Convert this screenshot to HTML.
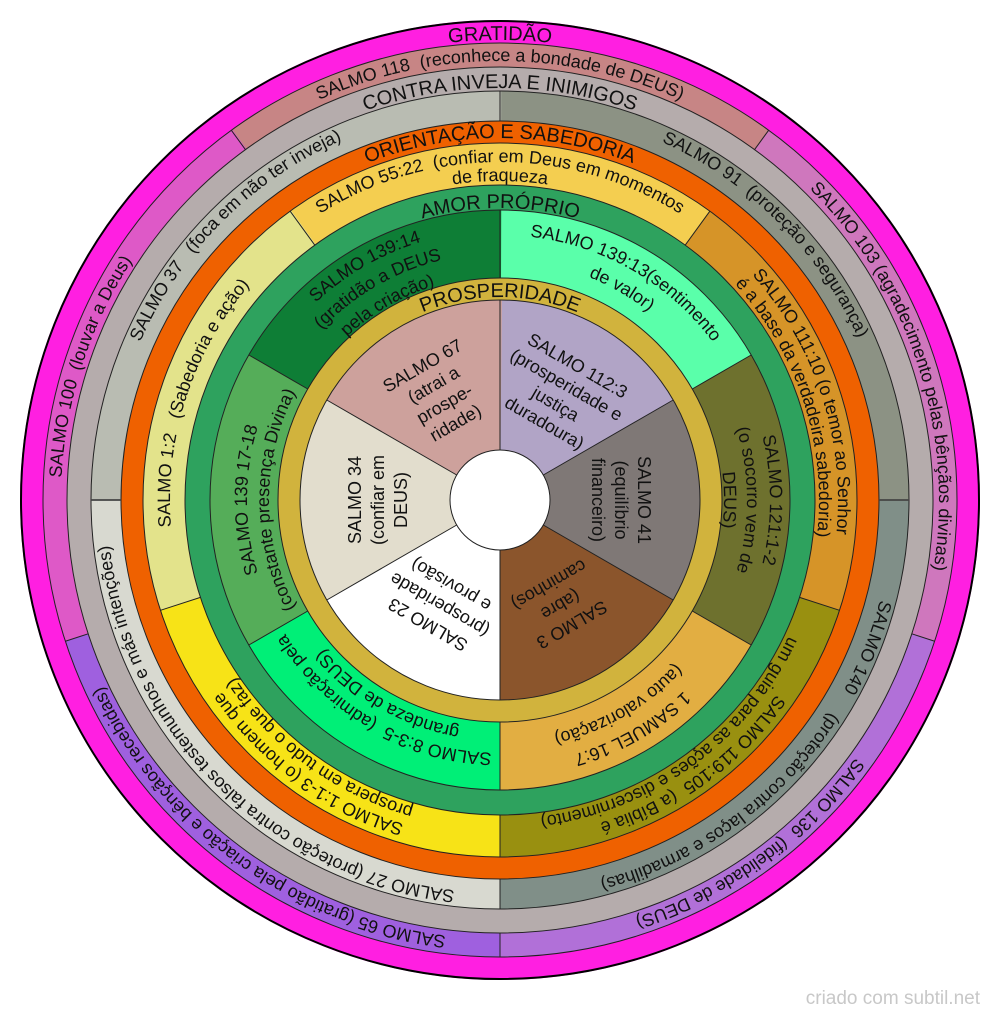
<!DOCTYPE html>
<html><head><meta charset="utf-8">
<style>
html,body{margin:0;padding:0;background:#fff;width:1000px;height:1019px;overflow:hidden;}
svg{display:block;}
text{font-family:"Liberation Sans",Arial,sans-serif;fill:#111;}
.t{font-size:20px;}
.l{font-size:18px;}
</style></head><body>
<svg width="1000" height="1019" viewBox="0 0 1000 1019" xmlns="http://www.w3.org/2000/svg">
<defs>
<path id="p460" d="M0,460A460,460 0 1,1 0,-460A460,460 0 1,1 0,460"/>
<path id="p439" d="M0,439A439,439 0 1,1 0,-439A439,439 0 1,1 0,439"/>
<path id="p412" d="M0,412A412,412 0 1,1 0,-412A412,412 0 1,1 0,412"/>
<path id="p393" d="M0,393A393,393 0 1,1 0,-393A393,393 0 1,1 0,393"/>
<path id="p362" d="M0,362A362,362 0 1,1 0,-362A362,362 0 1,1 0,362"/>
<path id="p338" d="M0,338A338,338 0 1,1 0,-338A338,338 0 1,1 0,338"/>
<path id="p330" d="M0,330A330,330 0 1,1 0,-330A330,330 0 1,1 0,330"/>
<path id="p319" d="M0,319A319,319 0 1,1 0,-319A319,319 0 1,1 0,319"/>
<path id="p292" d="M0,292A292,292 0 1,1 0,-292A292,292 0 1,1 0,292"/>
<path id="p270" d="M0,270A270,270 0 1,1 0,-270A270,270 0 1,1 0,270"/>
<path id="p265" d="M0,265A265,265 0 1,1 0,-265A265,265 0 1,1 0,265"/>
<path id="p253" d="M0,253A253,253 0 1,1 0,-253A253,253 0 1,1 0,253"/>
<path id="p247" d="M0,247A247,247 0 1,1 0,-247A247,247 0 1,1 0,247"/>
<path id="p240" d="M0,240A240,240 0 1,1 0,-240A240,240 0 1,1 0,240"/>
<path id="p231" d="M0,231A231,231 0 1,1 0,-231A231,231 0 1,1 0,231"/>
<path id="p224" d="M0,224A224,224 0 1,1 0,-224A224,224 0 1,1 0,224"/>
<path id="p203" d="M0,203A203,203 0 1,1 0,-203A203,203 0 1,1 0,203"/>
</defs>

<g transform="translate(500,500)">
  <!-- GRATIDAO -->
  <circle r="480" fill="#ff1fe1"/>
  <g fill="none" stroke-width="24" stroke-dasharray="560.2 2235.817">
    <circle r="445" stroke="#c78585" stroke-dashoffset="978.61"/>
    <circle r="445" stroke="#cf77bd" stroke-dashoffset="419.40"/>
    <circle r="445" stroke="#b170d8" stroke-dashoffset="2656.22"/>
    <circle r="445" stroke="#9f60df" stroke-dashoffset="2097.01"/>
    <circle r="445" stroke="#de59c7" stroke-dashoffset="1537.81"/>
  </g>
  <!-- CONTRA INVEJA -->
  <circle r="433" fill="#b5acac"/>
  <g fill="none" stroke-width="30" stroke-dasharray="619.9 1855.675">
    <circle r="394" stroke="#8c9284" stroke-dashoffset="618.89"/>
    <circle r="394" stroke="#808f88" stroke-dashoffset="0"/>
    <circle r="394" stroke="#d8d9d0" stroke-dashoffset="1856.68"/>
    <circle r="394" stroke="#b9bcb2" stroke-dashoffset="1237.79"/>
  </g>
  <!-- ORIENTACAO -->
  <circle r="379" fill="#ef6100"/>
  <g fill="none" stroke-width="42" stroke-dasharray="423.2 1687.95">
    <circle r="336" stroke="#f4ce50" stroke-dashoffset="738.90"/>
    <circle r="336" stroke="#d69428" stroke-dashoffset="316.67"/>
    <circle r="336" stroke="#999010" stroke-dashoffset="2005.59"/>
    <circle r="336" stroke="#f7e317" stroke-dashoffset="1583.36"/>
    <circle r="336" stroke="#e3e38b" stroke-dashoffset="1161.13"/>
  </g>
  <!-- AMOR PROPRIO -->
  <circle r="315" fill="#2ea25e"/>
  <g fill="none" stroke-width="68" stroke-dasharray="269.1 1339.395">
    <circle r="256" stroke="#5affaa" stroke-dashoffset="402.12"/>
    <circle r="256" stroke="#6e712e" stroke-dashoffset="134.04"/>
    <circle r="256" stroke="#e2ae42" stroke-dashoffset="1474.45"/>
    <circle r="256" stroke="#00ef77" stroke-dashoffset="1206.37"/>
    <circle r="256" stroke="#55ad59" stroke-dashoffset="938.29"/>
    <circle r="256" stroke="#0e7e36" stroke-dashoffset="670.21"/>
  </g>
  <!-- PROSPERIDADE -->
  <circle r="222" fill="#d1b33d"/>
  <g fill="none" stroke-width="150" stroke-dasharray="131.9 653.498">
    <circle r="125" stroke="#b1a4c6" stroke-dashoffset="196.35"/>
    <circle r="125" stroke="#7f7876" stroke-dashoffset="65.45"/>
    <circle r="125" stroke="#8b552c" stroke-dashoffset="719.95"/>
    <circle r="125" stroke="#ffffff" stroke-dashoffset="589.05"/>
    <circle r="125" stroke="#e2ddcd" stroke-dashoffset="458.15"/>
    <circle r="125" stroke="#cda19c" stroke-dashoffset="327.25"/>
  </g>
  <circle r="50" fill="#fff"/>

  <!-- ring boundary circles -->
  <g fill="none" stroke="#222" stroke-width="1">
    <circle r="457"/><circle r="433"/><circle r="409"/><circle r="379"/>
    <circle r="357"/><circle r="315"/><circle r="290"/><circle r="222"/>
    <circle r="200"/><circle r="50"/>
  </g>
  <circle r="479" fill="none" stroke="#000" stroke-width="2"/>

  <!-- radial lines -->
  <g stroke="#222" stroke-width="1">
    <line x1="0" y1="-433" x2="0" y2="-457" transform="rotate(-36)"/>
    <line x1="0" y1="-433" x2="0" y2="-457" transform="rotate(36)"/>
    <line x1="0" y1="-433" x2="0" y2="-457" transform="rotate(108)"/>
    <line x1="0" y1="-433" x2="0" y2="-457" transform="rotate(180)"/>
    <line x1="0" y1="-433" x2="0" y2="-457" transform="rotate(252)"/>

    <line x1="0" y1="-379" x2="0" y2="-409" transform="rotate(0)"/>
    <line x1="0" y1="-379" x2="0" y2="-409" transform="rotate(90)" stroke="#444" stroke-width="1.8"/>
    <line x1="0" y1="-379" x2="0" y2="-409" transform="rotate(180)"/>
    <line x1="0" y1="-379" x2="0" y2="-409" transform="rotate(270)" stroke="#444" stroke-width="1.8"/>

    <line x1="0" y1="-315" x2="0" y2="-357" transform="rotate(-36)"/>
    <line x1="0" y1="-315" x2="0" y2="-357" transform="rotate(36)"/>
    <line x1="0" y1="-315" x2="0" y2="-357" transform="rotate(108)"/>
    <line x1="0" y1="-315" x2="0" y2="-357" transform="rotate(180)"/>
    <line x1="0" y1="-315" x2="0" y2="-357" transform="rotate(252)"/>

    <line x1="0" y1="-222" x2="0" y2="-290" transform="rotate(0)"/>
    <line x1="0" y1="-222" x2="0" y2="-290" transform="rotate(60)"/>
    <line x1="0" y1="-222" x2="0" y2="-290" transform="rotate(120)"/>
    <line x1="0" y1="-222" x2="0" y2="-290" transform="rotate(180)"/>
    <line x1="0" y1="-222" x2="0" y2="-290" transform="rotate(240)"/>
    <line x1="0" y1="-222" x2="0" y2="-290" transform="rotate(300)"/>

    <line x1="0" y1="-50" x2="0" y2="-200" transform="rotate(0)"/>
    <line x1="0" y1="-50" x2="0" y2="-200" transform="rotate(60)"/>
    <line x1="0" y1="-50" x2="0" y2="-200" transform="rotate(120)"/>
    <line x1="0" y1="-50" x2="0" y2="-200" transform="rotate(180)"/>
    <line x1="0" y1="-50" x2="0" y2="-200" transform="rotate(240)"/>
    <line x1="0" y1="-50" x2="0" y2="-200" transform="rotate(300)"/>
  </g>

  <!-- TITLES -->
  <text class="t" text-anchor="middle"><textPath href="#p460" startOffset="50%">GRATIDÃO</textPath></text>
  <text class="t" text-anchor="middle"><textPath href="#p412" startOffset="50%">CONTRA INVEJA E INIMIGOS</textPath></text>
  <text class="t" text-anchor="middle"><textPath href="#p362" startOffset="50%">ORIENTAÇÃO E SABEDORIA</textPath></text>
  <text class="t" text-anchor="middle"><textPath href="#p292" startOffset="50%">AMOR PRÓPRIO</textPath></text>
  <text class="t" text-anchor="middle"><textPath href="#p203" startOffset="50%">PROSPERIDADE</textPath></text>

  <!-- GRATIDAO labels -->
  <g class="l" text-anchor="middle">
    <text><textPath href="#p439" startOffset="50%">SALMO 118 &#160;(reconhece a bondade de DEUS)</textPath></text>
    <g transform="rotate(72)"><text><textPath href="#p439" startOffset="50%">SALMO 103 (agradecimento pelas bênçãos divinas)</textPath></text></g>
    <g transform="rotate(144)"><text><textPath href="#p439" startOffset="50%">SALMO 136 &#160;(fidelidade de DEUS)</textPath></text></g>
    <g transform="rotate(216)"><text><textPath href="#p439" startOffset="50%">SALMO 65 (gratidão pela criação e bênçãos recebidas)</textPath></text></g>
    <g transform="rotate(288)"><text><textPath href="#p439" startOffset="50%">SALMO 100 &#160;(louvar a Deus)</textPath></text></g>
  </g>

  <!-- CONTRA labels -->
  <g class="l" text-anchor="middle">
    <g transform="rotate(45)"><text><textPath href="#p393" startOffset="50%">SALMO 91 &#160;(proteção e segurança)</textPath></text></g>
    <g transform="rotate(135)"><text><textPath href="#p393" startOffset="50%">SALMO 140 &#160;&#160;&#160;&#160;(proteção contra laços e armadilhas)</textPath></text></g>
    <g transform="rotate(225)"><text><textPath href="#p393" startOffset="50%">SALMO 27 (proteção contra falsos testemunhos e más intenções)</textPath></text></g>
    <g transform="rotate(315)"><text><textPath href="#p393" startOffset="50%">SALMO 37 &#160;&#160;(foca em não ter inveja)</textPath></text></g>
  </g>

  <!-- ORIENTACAO labels -->
  <g class="l" text-anchor="middle">
    <text><textPath href="#p338" startOffset="50%">SALMO 55:22 &#160;(confiar em Deus em momentos</textPath></text>
    <text><textPath href="#p319" startOffset="50%">de fraqueza</textPath></text>
    <g transform="rotate(72)">
      <text><textPath href="#p338" startOffset="50%">SALMO 111:10 (o temor ao Senhor</textPath></text>
      <text><textPath href="#p319" startOffset="50%">é a base da verdadeira sabedoria)</textPath></text>
    </g>
    <g transform="rotate(144)">
      <text><textPath href="#p338" startOffset="50%">SALMO 119:105 &#160;(a Bíblia é</textPath></text>
      <text><textPath href="#p319" startOffset="50%">um guia para as ações e discernimento)</textPath></text>
    </g>
    <g transform="rotate(216)">
      <text><textPath href="#p338" startOffset="50%">SALMO 1:1-3 (o homem que</textPath></text>
      <text><textPath href="#p319" startOffset="50%">prospera em tudo o que faz)</textPath></text>
    </g>
    <g transform="rotate(288)">
      <text><textPath href="#p330" startOffset="50%">SALMO 1:2 &#160;&#160;(Sabedoria e ação)</textPath></text>
    </g>
  </g>

  <!-- AMOR PROPRIO labels -->
  <g class="l" text-anchor="middle">
    <g transform="rotate(30)">
      <text><textPath href="#p265" startOffset="50%">SALMO 139:13(sentimento</textPath></text>
      <text><textPath href="#p240" startOffset="50%">de valor)</textPath></text>
    </g>
    <g transform="rotate(90)">
      <text><textPath href="#p270" startOffset="50%">SALMO 121:1-2</textPath></text>
      <text><textPath href="#p247" startOffset="50%">(o socorro vem de</textPath></text>
      <text><textPath href="#p224" startOffset="50%">DEUS)</textPath></text>
    </g>
    <g transform="rotate(150)">
      <text><textPath href="#p265" startOffset="50%">1 SAMUEL 16:7</textPath></text>
      <text><textPath href="#p240" startOffset="50%">(auto valorização)</textPath></text>
    </g>
    <g transform="rotate(210)">
      <text><textPath href="#p253" startOffset="50%">SALMO 8:3-5 &#160;(admiração pela</textPath></text>
      <text><textPath href="#p231" startOffset="50%">grandeza de DEUS)</textPath></text>
    </g>
    <g transform="rotate(270)">
      <text><textPath href="#p253" startOffset="50%">SALMO 139 17-18</textPath></text>
      <text><textPath href="#p231" startOffset="50%">(constante presença Divina)</textPath></text>
    </g>
    <g transform="rotate(330)">
      <text><textPath href="#p270" startOffset="50%">SALMO 139:14</textPath></text>
      <text><textPath href="#p247" startOffset="50%">(gratidão a DEUS</textPath></text>
      <text><textPath href="#p224" startOffset="50%">pela criação)</textPath></text>
    </g>
  </g>

  <!-- PROSPERIDADE labels (straight, rotated) -->
  <g class="l" text-anchor="middle">
    <g transform="rotate(-30)">
      <text x="0" y="-149">SALMO 67</text>
      <text x="0" y="-127">(atrai a</text>
      <text x="0" y="-105">prospe-</text>
      <text x="0" y="-83">ridade)</text>
    </g>
    <g transform="rotate(30)">
      <text x="0" y="-149">SALMO 112:3</text>
      <text x="0" y="-127">(prosperidade e</text>
      <text x="0" y="-105">justiça</text>
      <text x="0" y="-83">duradoura)</text>
    </g>
    <g transform="rotate(90)">
      <text x="0" y="-138">SALMO 41</text>
      <text x="0" y="-115">(equilíbrio</text>
      <text x="0" y="-92">financeiro)</text>
    </g>
    <g transform="rotate(150)">
      <text x="0" y="-138">SALMO 3</text>
      <text x="0" y="-115">(abre</text>
      <text x="0" y="-92">caminhos)</text>
    </g>
    <g transform="rotate(210)">
      <text x="0" y="-138">SALMO 23</text>
      <text x="0" y="-115">(prosperidade</text>
      <text x="0" y="-92">e provisão)</text>
    </g>
    <g transform="rotate(270)">
      <text x="0" y="-139">SALMO 34</text>
      <text x="0" y="-116">(confiar em</text>
      <text x="0" y="-93">DEUS)</text>
    </g>
  </g>
</g>

<text x="980" y="1004" text-anchor="end" font-size="19" style="fill:#c8c8c8">criado com subtil.net</text>
</svg>
</body></html>
